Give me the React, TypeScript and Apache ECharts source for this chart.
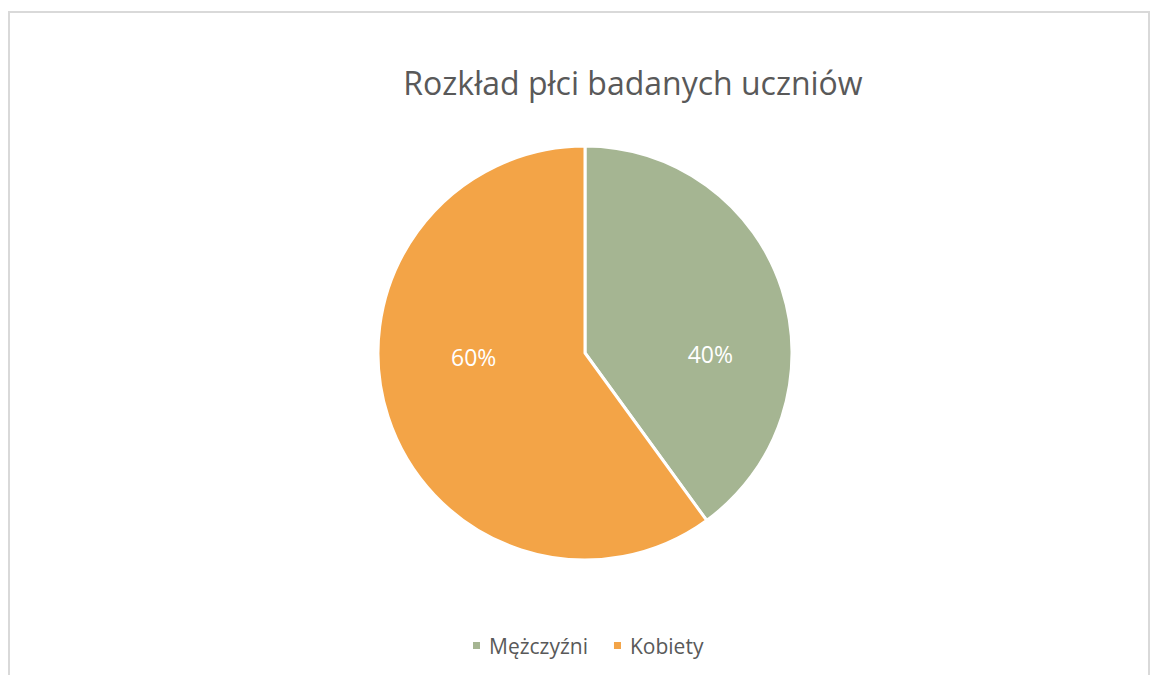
import React, { useEffect, useRef } from "react";
import * as echarts from "echarts";

const categories = ["Mężczyźni", "Kobiety"];
const values = [40, 60];
const colors = ["#A5B592", "#F3A447"];
const labelShifts = [
  [24, 34],
  [-10, -29],
];

export default function App() {
  const ref = useRef<HTMLDivElement>(null);
  useEffect(() => {
    const chart = echarts.init(ref.current!, null, { renderer: "svg" });
    chart.setOption({
      animation: false,
      backgroundColor: "#ffffff",
      title: {
        text: "Rozkład płci badanych uczniów",
        left: 618,
        top: 48,
        textAlign: "center",
        textStyle: {
          fontFamily: "Open Sans",
          fontSize: 32,
          fontWeight: "normal",
          color: "#595959",
        },
      },
      legend: {
        data: categories,
        left: 456,
        top: 617,
        icon: "rect",
        itemWidth: 9,
        itemHeight: 9,
        itemGap: 24,
        textStyle: {
          fontFamily: "Open Sans",
          fontSize: 21,
          color: "#595959",
          padding: [0, 0, 0, 3],
        },
      },
      series: [
        {
          type: "pie",
          center: [575, 340],
          radius: 207,
          startAngle: 90,
          clockwise: true,
          itemStyle: { borderColor: "#ffffff", borderWidth: 3 },
          label: {
            position: "inside",
            formatter: "{d}%",
            color: "#ffffff",
            fontFamily: "Open Sans",
            fontSize: 23,
          },
          labelLayout: (params: any) => {
            const s = labelShifts[params.dataIndex];
            return { dx: s[0], dy: s[1] };
          },
          data: categories.map((c, i) => ({
            name: c,
            value: values[i],
            itemStyle: { color: colors[i] },
          })),
        },
      ],
    });
    return () => chart.dispose();
  }, []);
  return (
    <div
      style={{
        position: "absolute",
        left: 8,
        top: 11,
        width: 1138,
        height: 690,
        border: "2px solid #d9d9d9",
        overflow: "hidden",
        background: "#fff",
      }}
    >
      <div ref={ref} style={{ width: 1138, height: 690 }} />
    </div>
  );
}
